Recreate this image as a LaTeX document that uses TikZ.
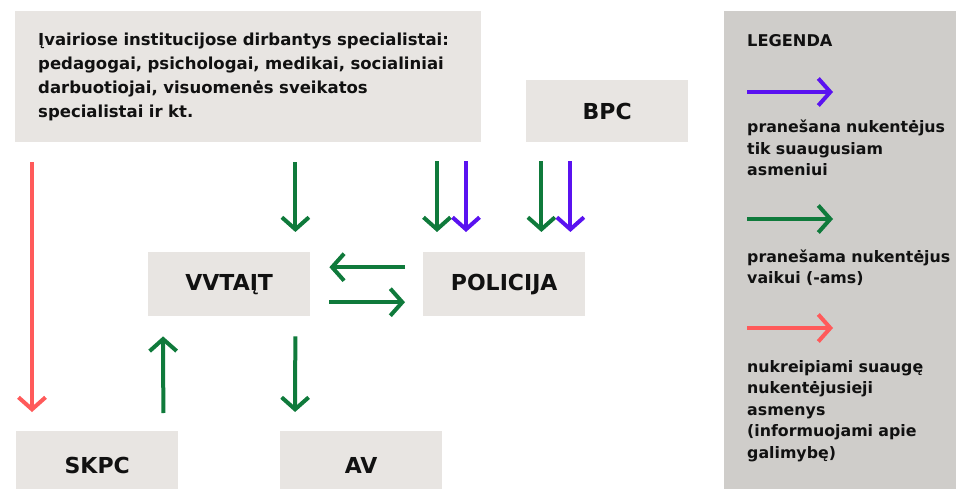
\documentclass[tikz,border=0pt]{standalone}
\usepackage{fontspec}
\setmainfont{DejaVu Sans}
\usetikzlibrary{arrows.meta}
\definecolor{boxgray}{HTML}{E8E5E2}
\definecolor{leggray}{HTML}{CFCDCA}
\definecolor{arrgreen}{HTML}{0F7A3B}
\definecolor{arrpurple}{HTML}{5A12F0}
\definecolor{arrred}{HTML}{FF5A5A}
\definecolor{txtblack}{HTML}{111111}

\tikzset{
    box/.style={fill=boxgray, inner sep=0pt, text=txtblack, font=\fontsize{22}{24}\selectfont\bfseries},
    flow/.style={line width=4pt, -{Straight Barb[length=12pt,width=27pt]}},
    gflow/.style={flow, draw=arrgreen},
    pflow/.style={flow, draw=arrpurple},
    rflow/.style={flow, draw=arrred},
    legtext/.style={anchor=base west, text width=205pt, align=left, inner sep=0pt, text=txtblack, font=\fontsize{15.8}{21.5}\selectfont\bfseries}
}

\begin{document}
\begin{tikzpicture}[x=1pt,y=-1pt]
            \useasboundingbox (0,0) rectangle (956,489);
            
            % Boxes
            \node[box, minimum width=466pt, minimum height=131pt, anchor=north west, text width=420pt, align=left,
                font=\fontsize{16.5}{24}\selectfont\bfseries] (spec) at (15,11) {%
                Įvairiose institucijose dirbantys specialistai:\\
                pedagogai, psichologai, medikai, socialiniai\\
                darbuotiojai, visuomenės sveikatos\\
                specialistai ir kt.};
            \node[box, minimum width=162pt, minimum height=62pt, anchor=north west] (bpc) at (526,80) {BPC};
            \node[box, minimum width=162pt, minimum height=64pt, anchor=north west] (vvt) at (148,252) {VVTAĮT};
            \node[box, minimum width=162pt, minimum height=64pt, anchor=north west] (pol) at (423,252) {POLICIJA};
            \node[box, minimum width=162pt, minimum height=68pt, anchor=north west] (skpc) at (16,431) {SKPC};
            \node[box, minimum width=162pt, minimum height=68pt, anchor=north west] (av) at (280,431) {AV};
            
            % Arrows from the top boxes
            \draw[rflow, shorten <=20pt, shorten >=19pt] ([xshift=16pt]skpc.north west |- spec.south) -- ([xshift=16pt]skpc.north west);
            \draw[gflow, shorten <=20pt, shorten >=20pt] ([xshift=-15pt]vvt.north east |- spec.south) -- ([xshift=-15pt]vvt.north east);
            \draw[gflow, shorten <=19pt, shorten >=20pt] ([xshift=14pt]pol.north west |- spec.south) -- ([xshift=14pt]pol.north west);
            \draw[pflow, shorten <=19pt, shorten >=20pt] ([xshift=43pt]pol.north west |- spec.south) -- ([xshift=43pt]pol.north west);
            \draw[gflow, shorten <=19pt, shorten >=20pt] ([xshift=-44pt]pol.north east |- bpc.south) -- ([xshift=-44pt]pol.north east);
            \draw[pflow, shorten <=19pt, shorten >=20pt] ([xshift=-15pt]pol.north east |- bpc.south) -- ([xshift=-15pt]pol.north east);
            
            % VVTAIT <-> POLICIJA
            \draw[gflow, shorten <=18pt, shorten >=19pt] ([yshift=17pt]pol.west) -- ([yshift=17pt]pol.west -| vvt.east);
            \draw[gflow, shorten <=19pt, shorten >=18pt] ([yshift=-18pt]vvt.east) -- ([yshift=-18pt]vvt.east -| pol.west);
            
            % Lower arrows
            \draw[gflow, shorten <=18pt, shorten >=20pt] ([xshift=-15pt]skpc.north east) -- ([xshift=15pt]vvt.south west);
            \draw[gflow, shorten <=20pt, shorten >=19pt] ([xshift=-15pt]vvt.south east) -- ([xshift=15pt]av.north west);
            
            % Legend
            \node[fill=leggray, minimum width=232pt, minimum height=478pt, anchor=north west, inner sep=0pt] (leg) at (724,11) {};
            \node[legtext, font=\fontsize{16.2}{20}\selectfont\bfseries] (legtitle) at (747,47) {LEGENDA};
            \coordinate (pa) at (747,92);
            \coordinate (pb) at (833,92);
            \draw[pflow] (pa) -- (pb);
            \node[legtext] (ptext) at (747,133) {pranešana nukentėjus\\tik suaugusiam\\asmeniui};
            \coordinate (ga) at (747,219);
            \coordinate (gb) at (833,219);
            \draw[gflow] (ga) -- (gb);
            \node[legtext] (gtext) at (747,262) {pranešama nukentėjus\\vaikui (-ams)};
            \coordinate (ra) at (747,328);
            \coordinate (rb) at (833,328);
            \draw[rflow] (ra) -- (rb);
            \node[legtext] (rtext) at (747,372) {nukreipiami suaugę\\nukentėjusieji\\asmenys\\(informuojami apie\\galimybę)};
        \end{tikzpicture}
\end{document}
